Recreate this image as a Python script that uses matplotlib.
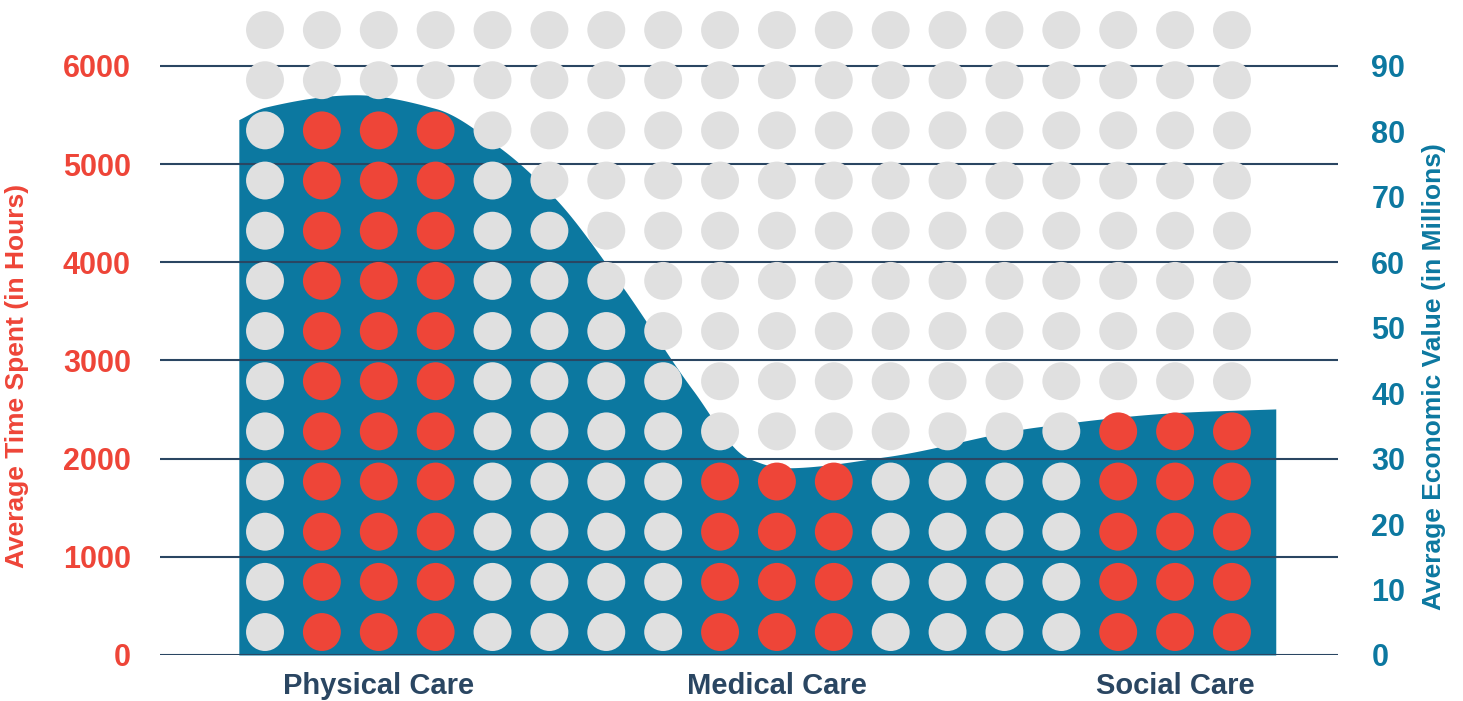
import numpy as np
import matplotlib
matplotlib.use("Agg")
import matplotlib.pyplot as plt

# ---------------- data ----------------
categories = ["Physical Care", "Medical Care", "Social Care"]
time_spent_hours = [5500, 2000, 2500]          # red dots (one dot row ~ 500 h)
hours_per_dot_row = 500
# economic value curve (in millions) read along the category axis
value_curve_pos = [-0.46, 0.0, 1.6, 3.0, 4.13, 5.13, 6.29, 7.52, 8.49, 9.14, 10.92, 13.54, 16.14, 17.77]
value_curve_millions = [81.8, 83.7, 85.6, 83.5, 77.5, 69.5, 56.2, 40.5, 30.1, 28.6, 30.3, 34.8, 37.1, 37.6]
left_ticks = [0, 1000, 2000, 3000, 4000, 5000, 6000]
right_ticks = [0, 10, 20, 30, 40, 50, 60, 70, 80, 90]

# ---------------- style ----------------
RED = "#EE4538"
BLUE = "#0C78A0"
GRAY = "#E0E0E0"
NAVY = "#2A4662"
plt.rcParams["font.family"] = ["Liberation Sans", "DejaVu Sans"]
plt.rcParams["font.weight"] = "bold"

W, H = 1463, 701
fig = plt.figure(figsize=(W / 100, H / 100), dpi=100)
fig.patch.set_facecolor("white")

ax_left_px, ax_right_px = 160, 1338
ax_bottom_px = 655
ax = fig.add_axes([ax_left_px / W, (H - ax_bottom_px) / H,
                   (ax_right_px - ax_left_px) / W, ax_bottom_px / H])
ax2 = ax.twinx()
ax.set_zorder(ax2.get_zorder() + 1)
ax.patch.set_visible(False)

n_cols, n_rows = 18, 13
col_step_px = 56.88
xlim = ((ax_left_px - 265) / col_step_px, (ax_right_px - 265) / col_step_px)
ymax = 6672
ax.set_xlim(*xlim)
ax.set_ylim(0, ymax)
ax2.set_ylim(0, ymax * 90 / 6000)

# smooth monotone cubic for the area outline
def pchip(x, y, xs):
    x = np.asarray(x, float); y = np.asarray(y, float)
    h = np.diff(x); d = np.diff(y) / h
    m = np.zeros_like(y)
    for k in range(1, len(x) - 1):
        if d[k - 1] * d[k] > 0:
            w1 = 2 * h[k] + h[k - 1]; w2 = h[k] + 2 * h[k - 1]
            m[k] = (w1 + w2) / (w1 / d[k - 1] + w2 / d[k])
    m[0] = d[0]; m[-1] = d[-1]
    idx = np.clip(np.searchsorted(x, xs) - 1, 0, len(x) - 2)
    t = (xs - x[idx]) / h[idx]
    h00 = 2 * t**3 - 3 * t**2 + 1; h10 = t**3 - 2 * t**2 + t
    h01 = -2 * t**3 + 3 * t**2; h11 = t**3 - t**2
    return h00 * y[idx] + h10 * h[idx] * m[idx] + h01 * y[idx + 1] + h11 * h[idx] * m[idx + 1]

xs = np.linspace(value_curve_pos[0], value_curve_pos[-1], 600)
ys = pchip(value_curve_pos, value_curve_millions, xs)
ax2.fill_between(xs, 0, ys, color=BLUE, linewidth=0)

# gridlines
ax.set_yticks(left_ticks)
ax.yaxis.grid(True, color=NAVY, linewidth=1.5)
ax.set_axisbelow(True)

# dots
row_first, row_step = 234, 511
cat_cols = [2, 9, 16]
gx, gy, gc = [], [], []
for r in range(n_rows):
    for c in range(n_cols):
        color = GRAY
        for cc, t in zip(cat_cols, time_spent_hours):
            if abs(c - cc) <= 1 and r < round(t / hours_per_dot_row):
                color = RED
        gx.append(c); gy.append(row_first + r * row_step); gc.append(color)
ax.scatter(gx, gy, s=745, c=gc, linewidths=0, zorder=3, clip_on=False)

# ticks
ax.set_xticks(cat_cols)
ax.set_xticklabels(categories, fontsize=21, color=NAVY, fontweight="bold")
ax.tick_params(axis="x", length=0, pad=12)
ax.tick_params(axis="y", length=0, pad=21, labelsize=22, labelcolor=RED)
ax2.set_yticks(right_ticks)
ax2.tick_params(axis="y", length=0, pad=24, labelsize=22, labelcolor=BLUE)
for lab in ax.get_yticklabels() + ax2.get_yticklabels():
    lab.set_fontweight("bold")

for a in (ax, ax2):
    for s in a.spines.values():
        s.set_visible(False)

fig.text(17 / W, 1 - 376 / H, "Average Time Spent (in Hours)", rotation=90,
         ha="center", va="center", fontsize=19, color=RED, fontweight="bold")
fig.text(1434.5 / W, 1 - 376.5 / H, "Average Economic Value (in Millions)", rotation=90,
         ha="center", va="center", fontsize=19, color=BLUE, fontweight="bold")

fig.savefig("out.png", dpi=100, facecolor="white")
